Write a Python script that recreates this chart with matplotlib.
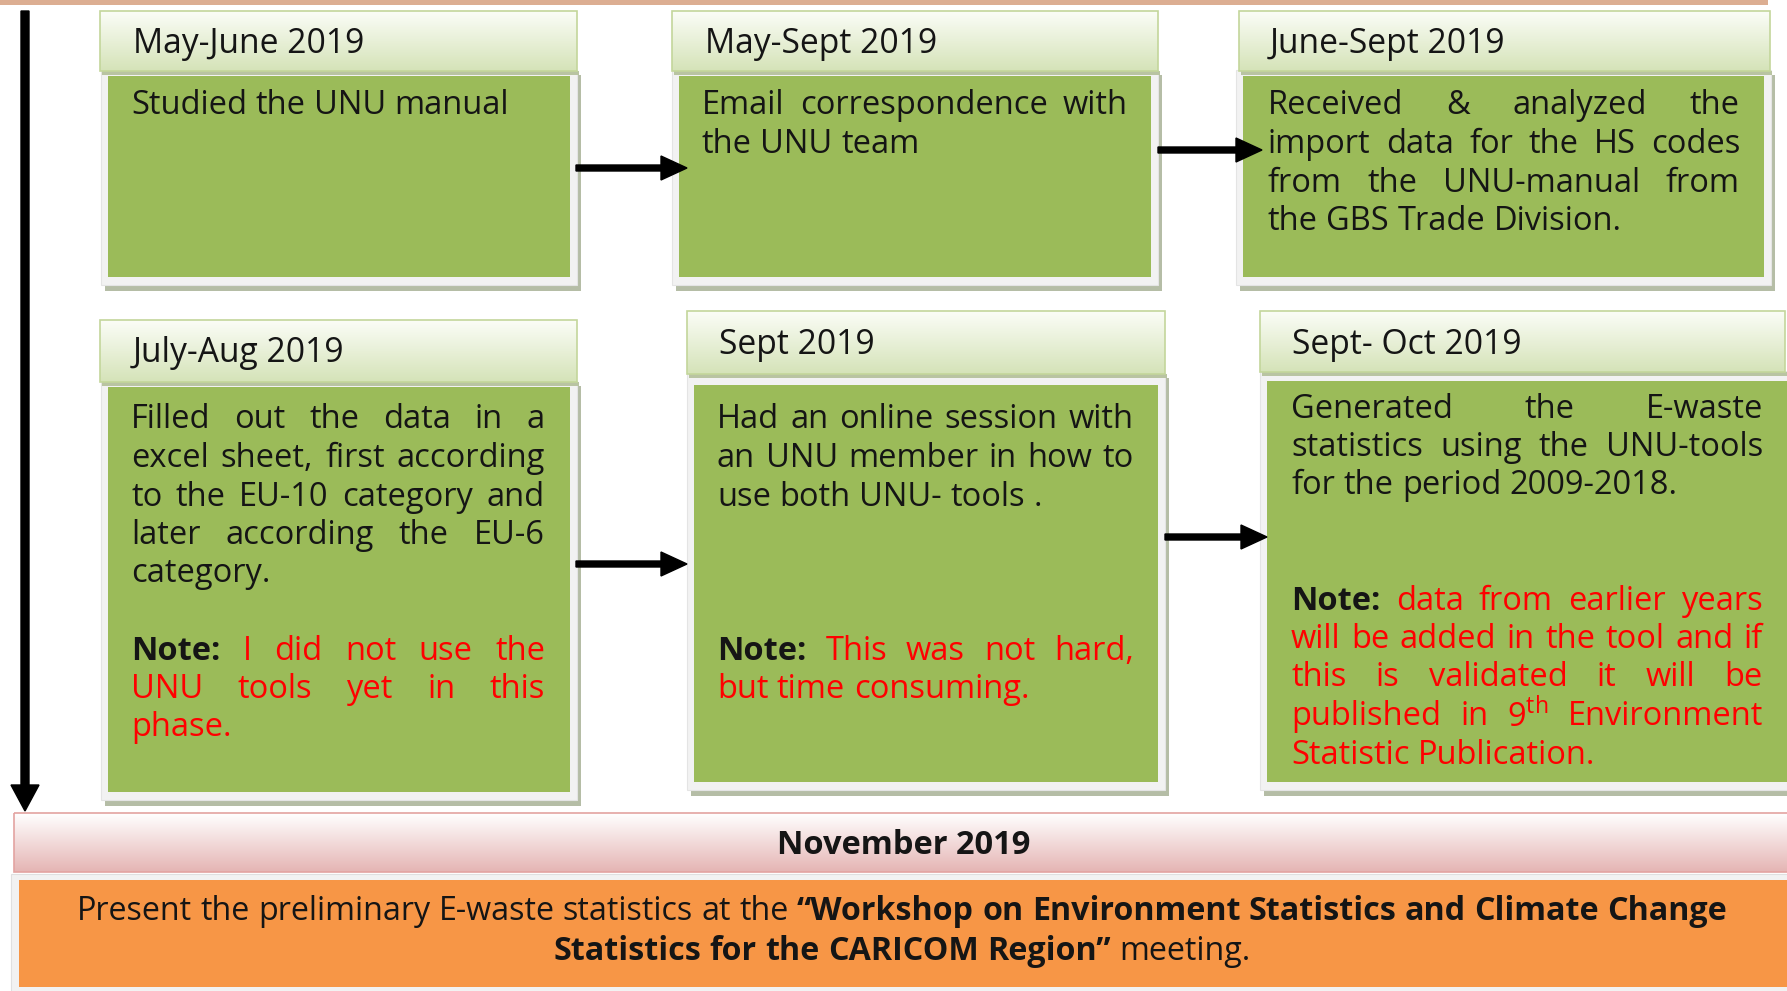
import numpy as np
import matplotlib.pyplot as plt
from matplotlib.patches import Rectangle, FancyArrow
from matplotlib.colors import to_rgb

plt.rcParams['font.family'] = ['Open Sans', 'DejaVu Sans']
plt.rcParams['mathtext.fontset'] = 'custom'
plt.rcParams['mathtext.rm'] = 'Open Sans'

# ---- texts ----
periods = ["May-June 2019", "May-Sept 2019", "June-Sept 2019",
           "July-Aug 2019", "Sept 2019", "Sept- Oct 2019"]
activities = [
    ["Studied the UNU manual"],
    ["Email correspondence with", "the UNU team"],
    ["Received & analyzed the", "import data for the HS codes",
     "from the UNU-manual from", "the GBS Trade Division."],
    ["Filled out the data in a", "excel sheet, first according",
     "to the EU-10 category and", "later according the EU-6", "category."],
    ["Had an online session with", "an UNU member in how to",
     "use both UNU- tools ."],
    ["Generated the E-waste", "statistics using the UNU-tools",
     "for the period 2009-2018."],
]
notes = [
    [], [], [],
    ["I did not use the", "UNU tools yet in this", "phase."],
    ["This was not hard,", "but time consuming."],
    ["data from earlier years", "will be added in the tool and if",
     "this is validated it will be", r"published in 9$^{\mathrm{th}}$ Environment",
     "Statistic Publication."],
]
final_title = "November 2019"
final_line1 = [("Present the preliminary E-waste statistics at the", "n"),
               ("\u201cWorkshop on Environment Statistics and Climate Change", "b")]
final_line2 = [("Statistics for the CARICOM Region\u201d", "b"), ("meeting.", "n")]

# ---- layout (pixels) ----
# header box, green body, text x range, first line y, first note y, header text pos
boxes = [
    dict(hd=(100, 11, 577, 71), gr=(108, 76, 570, 277), tx=(131, 545), y0=106, ny=None, ht=(133, 44)),
    dict(hd=(672, 11, 1158, 71), gr=(679, 76, 1151, 277), tx=(702, 1128), y0=106, ny=None, ht=(705, 44)),
    dict(hd=(1239, 11, 1770, 71), gr=(1243, 76, 1764, 277), tx=(1268, 1740), y0=106, ny=None, ht=(1270, 44)),
    dict(hd=(100, 320, 577, 382), gr=(108, 387, 570, 792), tx=(131, 545), y0=420, ny=651, ht=(133, 353)),
    dict(hd=(687, 311, 1165, 374), gr=(694, 385, 1158, 782), tx=(717, 1134), y0=420, ny=651, ht=(719, 345)),
    dict(hd=(1260, 311, 1785, 372), gr=(1267, 381, 1790, 782), tx=(1291, 1763), y0=409, ny=601, ht=(1292, 345)),
]
arrows = [(576, 687, 168), (1158, 1262, 150), (576, 687, 564), (1165, 1267, 537)]
LS = 38.5
FS = 23.5
HFS = 24.2

W, H = 1787, 991
fig = plt.figure(figsize=(W / 100, H / 100), dpi=100)
ax = fig.add_axes([0, 0, 1, 1])
ax.axis('off')
r = fig.canvas.get_renderer()

STYLE = {'n': dict(color='#151515'),
         'b': dict(color='#151515', fontweight='bold'),
         'r': dict(color='#ff0000')}


def draw_line(x0, x1, y, segs, mode='left', size=FS):
    words = []
    for txt, k in segs:
        for w in txt.split():
            words.append((w, k))
    arts, widths = [], []
    for w, k in words:
        t = ax.text(0, y, w, fontsize=size, va='center', ha='left', zorder=6, **STYLE[k])
        widths.append(t.get_window_extent(renderer=r).width)
        arts.append(t)
    sp = 0.26 * size * 100 / 72
    total = sum(widths) + sp * (len(words) - 1)
    x = x0
    if mode == 'justify' and len(words) > 1:
        sp = (x1 - x0 - sum(widths)) / (len(words) - 1)
    elif mode == 'center':
        x = (x0 + x1) / 2 - total / 2
    for t, wd in zip(arts, widths):
        t.set_x(x)
        x += wd + sp


def gradient_box(x0, y0, x1, y1, c_top, c_bot, edge, lw=1.2):
    top = np.array(to_rgb(c_top))
    bot = np.array(to_rgb(c_bot))
    g = np.linspace(0, 1, 64)[:, None, None]
    img = top * (1 - g) + bot * g
    ax.imshow(img, extent=(x0, x1, y1, y0), aspect='auto', interpolation='bilinear', zorder=3)
    ax.add_patch(Rectangle((x0, y0), x1 - x0, y1 - y0, fill=False, ec=edge, lw=lw, zorder=4))


# top border
ax.add_patch(Rectangle((0, 0), 1768, 5, fc='#dcae92', ec='none', zorder=1))

for i, b in enumerate(boxes):
    gx0, gy0, gx1, gy1 = b['gr']
    hx0, hy0, hx1, hy1 = b['hd']
    # shadow + white frame around green body
    ax.add_patch(Rectangle((gx0 - 7 + 4, hy1 - 1 + 5), gx1 - gx0 + 14, gy1 - hy1 + 10,
                           fc='#b5bda6', ec='none', zorder=1))
    ax.add_patch(Rectangle((gx0 - 7, hy1 - 1), gx1 - gx0 + 14, gy1 - hy1 + 9,
                           fc='#f2f2f2', ec='#e4e4e4', lw=0.8, zorder=2))
    ax.add_patch(Rectangle((gx0, gy0), gx1 - gx0, gy1 - gy0, fc='#9bbb59', ec='none', zorder=3))
    # header
    ax.add_patch(Rectangle((hx0 + 2, hy1), hx1 - hx0, 4, fc='#b9c4a2', ec='none', zorder=2.5))
    gradient_box(hx0, hy0, hx1, hy1, '#fbfdf7', '#d5e3b8', '#c3d69b')
    ax.text(b['ht'][0], b['ht'][1], periods[i], fontsize=HFS, va='center', ha='left',
            color='#151515', zorder=6)
    # body text
    tx0, tx1 = b['tx']
    lines = activities[i]
    for j, ln in enumerate(lines):
        mode = 'justify' if j < len(lines) - 1 else 'left'
        draw_line(tx0, tx1, b['y0'] + j * LS, [(ln, 'n')], mode)
    nl = notes[i]
    for j, ln in enumerate(nl):
        segs = [("Note:", 'b'), (ln, 'r')] if j == 0 else [(ln, 'r')]
        mode = 'justify' if j < len(nl) - 1 else 'left'
        draw_line(tx0, tx1, b['ny'] + j * LS, segs, mode)

for x0, x1, y in arrows:
    ax.add_patch(FancyArrow(x0, y, x1 - x0, 0, width=6, head_width=24, head_length=26,
                            length_includes_head=True, fc='black', ec='black', zorder=5))

# vertical timeline arrow
ax.add_patch(FancyArrow(25, 11, 0, 800, width=8, head_width=28, head_length=26,
                        length_includes_head=True, fc='black', ec='black', zorder=5))

# November bar
gradient_box(14, 813, 1790, 872, '#ffffff', '#e5b5b4', '#e3a3a1')
ax.text(904, 846, final_title, fontsize=FS, fontweight='bold', va='center', ha='center',
        color='#151515', zorder=6)

# orange final box
ax.add_patch(Rectangle((11, 874), 1790, 120, fc='#f2f2f2', ec='#e0e0e0', lw=0.8, zorder=2))
ax.add_patch(Rectangle((19, 880), 1790, 107, fc='#f79646', ec='none', zorder=3))
draw_line(0, 1804, 912, final_line1, 'center', size=23.2)
draw_line(0, 1804, 951, final_line2, 'center', size=23.2)

ax.set_xlim(0, W)
ax.set_ylim(H, 0)
fig.savefig('out.png', dpi=100)
